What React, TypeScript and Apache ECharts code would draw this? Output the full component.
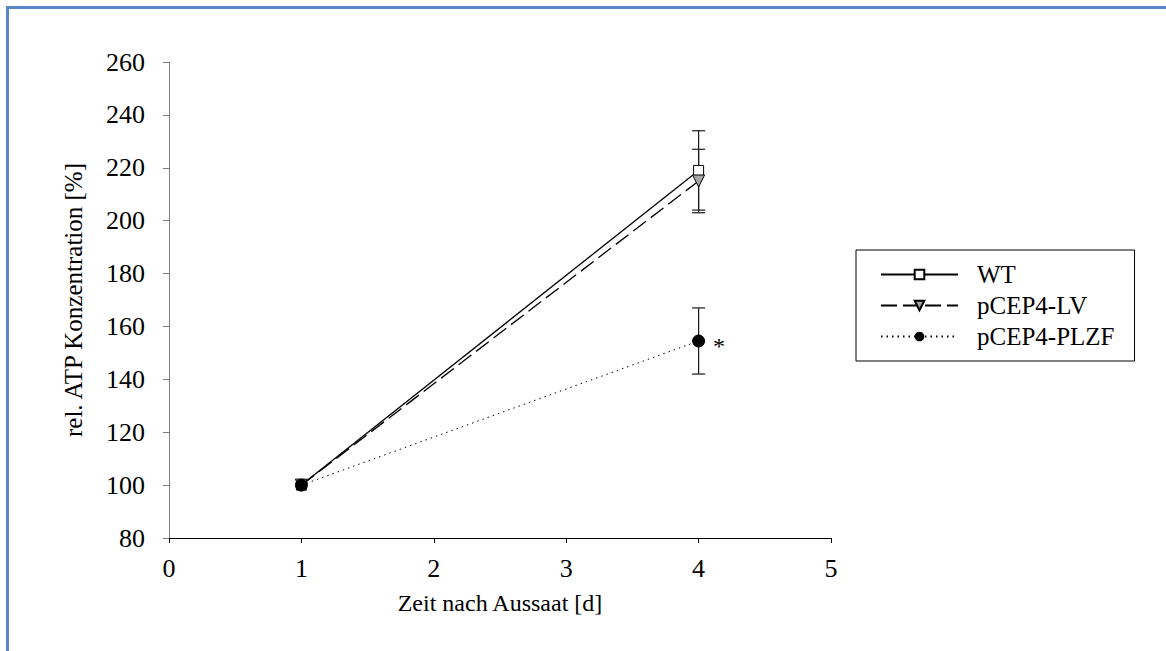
import React, { useEffect, useRef } from 'react';
import * as echarts from 'echarts';

// ---- data ----
const days = [1, 4];
const seriesNames = ['WT', 'pCEP4-LV', 'pCEP4-PLZF'];
const wtMean = [100, 219];
const wtErr = [0, 15];
const lvMean = [100, 215];
const lvErr = [0, 12];
const plzfMean = [100, 154.5];
const plzfErr = [0, 12.5];
const plzfSignificant = [false, true];
const xMin = 0, xMax = 5, xStep = 1;
const yMin = 80, yMax = 260, yStep = 20;
const xTitle = 'Zeit nach Aussaat [d]';
const yTitle = 'rel. ATP Konzentration [%]';

const FONT = '"Liberation Serif", "Times New Roman", Times, serif';

const errData = (means: number[], errs: number[]) =>
  days.map((d, i) => [d, means[i] - errs[i], means[i] + errs[i]]);

const renderErr = (params: any, api: any) => {
  const x = api.value(0);
  const lo = api.value(1);
  const hi = api.value(2);
  if (hi === lo) return null;
  const pHi = api.coord([x, hi]);
  const pLo = api.coord([x, lo]);
  const w = 6.5;
  const st = { stroke: '#1a1a1a', lineWidth: 1.2 };
  return {
    type: 'group',
    children: [
      { type: 'line', shape: { x1: pHi[0], y1: pHi[1], x2: pLo[0], y2: pLo[1] }, style: st },
      { type: 'line', shape: { x1: pHi[0] - w, y1: pHi[1], x2: pHi[0] + w, y2: pHi[1] }, style: st },
      { type: 'line', shape: { x1: pLo[0] - w, y1: pLo[1], x2: pLo[0] + w, y2: pLo[1] }, style: st },
    ],
  };
};

export default function App() {
  const ref = useRef<HTMLDivElement>(null);
  useEffect(() => {
    if (!ref.current) return;
    const chart = echarts.init(ref.current, null, { renderer: 'svg' });
    chart.setOption({
      animation: false,
      backgroundColor: '#fff',
      textStyle: { fontFamily: FONT },
      graphic: [
        { type: 'rect', shape: { x: 6, y: 6, width: 1160, height: 3 }, style: { fill: '#5a88c6' }, silent: true },
        { type: 'rect', shape: { x: 6, y: 6, width: 3, height: 645 }, style: { fill: '#5a88c6' }, silent: true },
      ],
      grid: { left: 169, right: 335, top: 62, bottom: 113 },
      legend: {
        data: seriesNames,
        orient: 'vertical',
        left: 856,
        top: 250,
        padding: [12, 20, 12, 24],
        borderColor: '#000',
        borderWidth: 1,
        itemWidth: 77,
        itemHeight: 12,
        itemGap: 6,
        textStyle: { fontFamily: FONT, fontSize: 25, lineHeight: 25, color: '#000', padding: [0, 0, 0, 14] },
      },
      xAxis: {
        type: 'value',
        min: xMin,
        max: xMax,
        interval: xStep,
        splitLine: { show: false },
        axisLine: { lineStyle: { color: '#000', width: 1 } },
        axisTick: { show: true, inside: false, length: 5, lineStyle: { color: '#000' } },
        axisLabel: { fontFamily: FONT, fontSize: 26, color: '#000', margin: 17 },
        name: xTitle,
        nameLocation: 'middle',
        nameGap: 53,
        nameTextStyle: { fontFamily: FONT, fontSize: 24, color: '#000' },
      },
      yAxis: {
        type: 'value',
        min: yMin,
        max: yMax,
        interval: yStep,
        splitLine: { show: false },
        axisLine: { show: true, lineStyle: { color: '#7f7f7f', width: 1 } },
        axisTick: { show: true, inside: false, length: 6, lineStyle: { color: '#7f7f7f' } },
        axisLabel: { fontFamily: FONT, fontSize: 26, color: '#000', margin: 24 },
        name: yTitle,
        nameLocation: 'middle',
        nameGap: 83,
        nameRotate: 90,
        nameTextStyle: { fontFamily: FONT, fontSize: 25, color: '#000' },
      },
      series: [
        {
          name: 'err-WT', type: 'custom', renderItem: renderErr, data: errData(wtMean, wtErr), z: 1,
          encode: { x: 0, y: [1, 2] },
        },
        {
          name: 'err-LV', type: 'custom', renderItem: renderErr, data: errData(lvMean, lvErr), z: 1,
          encode: { x: 0, y: [1, 2] },
        },
        {
          name: 'err-PLZF', type: 'custom', renderItem: renderErr, data: errData(plzfMean, plzfErr), z: 1,
          encode: { x: 0, y: [1, 2] },
        },
        {
          name: seriesNames[0],
          type: 'line',
          data: days.map((d, i) => [d, wtMean[i]]),
          symbol: 'rect',
          symbolSize: 10,
          itemStyle: { color: '#fff', borderColor: '#000', borderWidth: 1 },
          lineStyle: { color: '#000', width: 1.3, type: 'solid' },
          z: 3,
        },
        {
          name: seriesNames[1],
          type: 'line',
          data: days.map((d, i) => [d, lvMean[i]]),
          symbol: 'triangle',
          symbolRotate: 180,
          symbolSize: 12,
          itemStyle: { color: '#a6a6a6', borderColor: '#000', borderWidth: 1 },
          lineStyle: { color: '#000', width: 1.3, type: [16, 6] },
          z: 4,
        },
        {
          name: seriesNames[2],
          type: 'line',
          data: days.map((d, i) => ({
            value: [d, plzfMean[i]],
            label: plzfSignificant[i]
              ? { show: true, formatter: '*', position: 'right', distance: 8, offset: [0, 5], fontFamily: FONT, fontSize: 24, color: '#000' }
              : { show: false },
          })),
          symbol: 'circle',
          symbolSize: 12,
          itemStyle: { color: '#000', borderColor: '#000' },
          lineStyle: { color: '#000', width: 1, type: [1.5, 4] },
          z: 5,
        },
      ],
    });
    return () => chart.dispose();
  }, []);
  return <div ref={ref} style={{ position: 'fixed', left: 0, top: 0, width: 1166, height: 651 }} />;
}
